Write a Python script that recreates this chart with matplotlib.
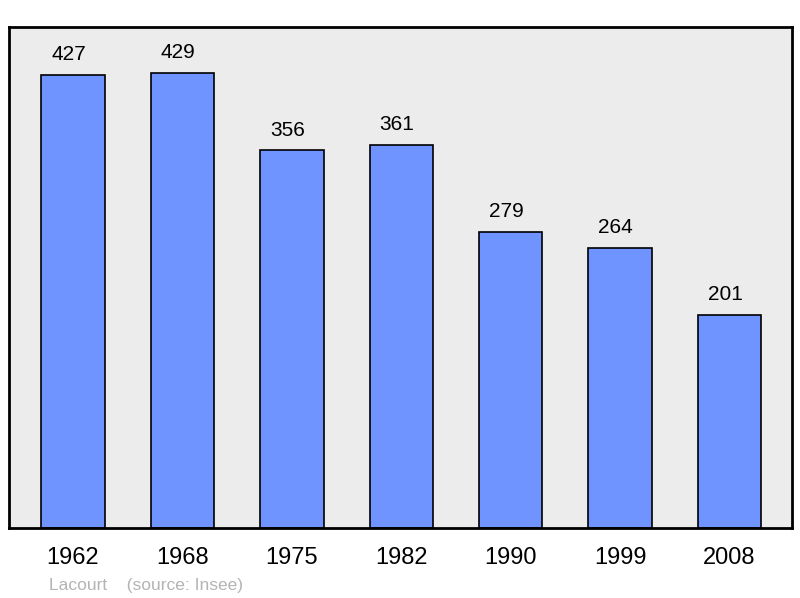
import matplotlib.pyplot as plt

years = ['1962', '1968', '1975', '1982', '1990', '1999', '2008']
population = [427, 429, 356, 361, 279, 264, 201]

plt.rcParams['font.family'] = ['Liberation Sans', 'DejaVu Sans']

fig = plt.figure(figsize=(8, 5.98), dpi=100)
ax = fig.add_axes([9 / 800, 1 - 528 / 598, 783 / 800, 501 / 598])
ax.set_facecolor('#ececec')

x = range(len(years))
ax.bar(x, population, width=0.58, color='#7094ff', edgecolor='black', linewidth=1.2)
for i, v in zip(x, population):
    # values sit a little left of the bar centre in the original
    ax.text(i - 0.04, v + 10, str(v), ha='center', va='bottom', fontsize=15)

ax.set_xlim(-0.585, 6.57)
ax.set_ylim(0, 472)
ax.set_xticks(list(x))
ax.set_xticklabels(years, fontsize=17)
ax.tick_params(axis='x', length=0, pad=14)
ax.set_yticks([])
for s in ax.spines.values():
    s.set_linewidth(2)
    s.set_color('black')

fig.text(49 / 800, 1 - 590 / 598, 'Lacourt    (source: Insee)', fontsize=12.5,
         color='#b4b4b4', ha='left', va='baseline')

fig.savefig('out.png', dpi=100)
